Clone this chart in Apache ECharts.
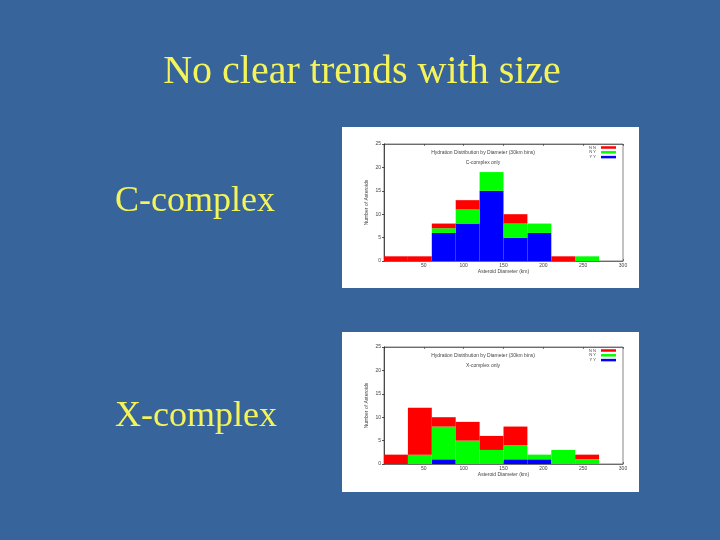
<!DOCTYPE html>
<html>
<head>
<meta charset="utf-8">
<script src="https://cdn.jsdelivr.net/npm/echarts@6/dist/echarts.min.js"></script>
<style>html,body{margin:0;padding:0;background:#37649B}#c{width:720px;height:540px}</style>
</head>
<body>
<div id="c"></div>
<script>
// ---- data ----
const bins = ['0-30','30-60','60-90','90-120','120-150','150-180','180-210','210-240','240-270','270-300'];
const seriesNames = ['N N','N Y','Y Y'];
// C-complex counts per 30 km bin
const C_YY = [0,0,6,8,15,5,6,0,0,0];
const C_NY = [0,0,1,3,4,3,2,0,1,0];
const C_NN = [1,1,1,2,0,2,0,1,0,0];
// X-complex counts per 30 km bin
const X_YY = [0,0,1,0,0,1,1,0,0,0];
const X_NY = [0,2,7,5,3,3,1,3,1,0];
const X_NN = [2,10,2,4,3,4,0,0,1,0];
// axis ranges
const xMin = 0, xMax = 300, xStep = 50;
const yMin = 0, yMax = 25, yStep = 5;
const slideTitle = 'No clear trends with size';
const panelLabels = ['C-complex','X-complex'];
const chartTitle = 'Hydration Distribution by Diameter (30km bins)';
const chartSubtitles = ['C-complex only','X-complex only'];
const xName = 'Asteroid Diameter (km)';
const yName = 'Number of Asteroids';

const colors = {'N N':'#FF0000','N Y':'#00FF00','Y Y':'#0000FF'};
const small = 'Liberation Sans';
const tc = '#444';

const grids = [], xAxes = [], yAxes = [], series = [], legends = [], graphics = [];
const boxes = [{x:342,y:127,w:297,h:161},{x:342,y:332,w:297,h:160}];
const gridTops = [144, 347];
const datas = [[C_YY,C_NY,C_NN],[X_YY,X_NY,X_NN]];

boxes.forEach(b => graphics.push({type:'rect', z:-100, shape:{x:b.x,y:b.y,width:b.w,height:b.h}, style:{fill:'#FFFFFF'}}));

graphics.push({type:'text', x:362, y:72, style:{text:slideTitle, font:'40px "Liberation Serif"', fill:'#F4F45A', textAlign:'center', textVerticalAlign:'middle'}});
graphics.push({type:'text', x:115, y:202, style:{text:panelLabels[0], font:'36px "Liberation Serif"', fill:'#F4F45A', textAlign:'left', textVerticalAlign:'middle'}});
graphics.push({type:'text', x:115, y:417, style:{text:panelLabels[1], font:'36px "Liberation Serif"', fill:'#F4F45A', textAlign:'left', textVerticalAlign:'middle'}});

gridTops.forEach((top, gi) => {
  grids.push({left:384, top:top, width:239, height:117, show:true, borderColor:'#333', borderWidth:0.6, backgroundColor:'transparent'});
  const xb = xAxes.length;
  xAxes.push({type:'category', gridIndex:gi, data:bins, show:false, boundaryGap:true});
  xAxes.push({type:'value', gridIndex:gi, position:'bottom', min:xMin, max:xMax, interval:xStep,
    name:xName, nameLocation:'middle', nameGap:8, nameTextStyle:{fontSize:5, color:tc, fontFamily:small},
    axisLine:{show:true, lineStyle:{color:'#333', width:0.6}}, axisTick:{show:true, inside:true, length:2, lineStyle:{color:'#333', width:0.6}},
    axisLabel:{fontSize:5, color:tc, fontFamily:small, margin:2, formatter:v => v === 0 ? '' : String(v)}, splitLine:{show:false}});
  xAxes.push({type:'value', gridIndex:gi, position:'top', min:xMin, max:xMax, interval:xStep,
    axisLine:{show:true, lineStyle:{color:'#333', width:0.6}}, axisTick:{show:true, inside:true, length:2, lineStyle:{color:'#333', width:0.6}},
    axisLabel:{show:false}, splitLine:{show:false}});
  const yb = yAxes.length;
  yAxes.push({type:'value', gridIndex:gi, position:'left', min:yMin, max:yMax, interval:yStep,
    name:yName, nameLocation:'middle', nameGap:15, nameRotate:90, nameTextStyle:{fontSize:5, color:tc, fontFamily:small},
    axisLine:{show:true, lineStyle:{color:'#333', width:0.6}}, axisTick:{show:true, inside:false, length:2, lineStyle:{color:'#333', width:0.6}},
    axisLabel:{fontSize:5, color:tc, fontFamily:small, margin:3}, splitLine:{show:false}});
  yAxes.push({type:'value', gridIndex:gi, position:'right', min:yMin, max:yMax, interval:yStep,
    axisLine:{show:true, lineStyle:{color:'#333', width:0.6}}, axisTick:{show:true, inside:true, length:2, lineStyle:{color:'#333', width:0.6}},
    axisLabel:{show:false}, splitLine:{show:false}});
  const [yy, ny, nn] = datas[gi];
  [['Y Y', yy], ['N Y', ny], ['N N', nn]].forEach(([name, d]) => {
    series.push({type:'bar', name:name, xAxisIndex:xb, yAxisIndex:yb, stack:'s'+gi, data:d,
      barWidth:'100%', barCategoryGap:'0%', itemStyle:{color:colors[name]}, silent:true, animation:false});
  });
  graphics.push({type:'text', x:483, y:top+9, style:{text:chartTitle, font:'5px "Liberation Sans"', fill:tc, textAlign:'center', textVerticalAlign:'middle'}});
  graphics.push({type:'text', x:483, y:top+19, style:{text:chartSubtitles[gi], font:'5px "Liberation Sans"', fill:tc, textAlign:'center', textVerticalAlign:'middle'}});
  legends.push({data:seriesNames, orient:'vertical', right:104, top:top+1.5, align:'right', itemWidth:15, itemHeight:2.5, itemGap:0.8,
    icon:'rect', selectedMode:false, padding:0, textStyle:{fontSize:4, lineHeight:3, color:tc, fontFamily:small, padding:[0,0,0,0]}});
});

const chart = echarts.init(document.getElementById('c'), null, {renderer:'canvas'});
chart.setOption({
  backgroundColor:'#37649B',
  animation:false,
  grid:grids, xAxis:xAxes, yAxis:yAxes, series:series, legend:legends,
  graphic:{elements:graphics}
});
</script>
</body>
</html>
